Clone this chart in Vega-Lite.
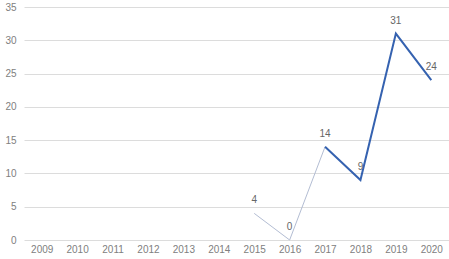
{
  "$schema": "https://vega.github.io/schema/vega-lite/v6.json",
  "width": 449,
  "height": 259,
  "autosize": {"type": "fit", "contains": "padding"},
  "padding": {"left": 4, "top": 2, "right": 0, "bottom": 5},
  "background": "white",
  "config": {
    "view": {"stroke": null},
    "font": "Liberation Sans",
    "axis": {"labelColor": "#808080", "labelFontSize": 10, "labelFont": "Liberation Sans"}
  },
  "datasets": {
    "lines": [
      {"year": "2015", "value": 4, "seg": "a"},
      {"year": "2016", "value": 0, "seg": "a"},
      {"year": "2017", "value": 14, "seg": "a"},
      {"year": "2017", "value": 14, "seg": "b"},
      {"year": "2018", "value": 9, "seg": "b"},
      {"year": "2019", "value": 31, "seg": "b"},
      {"year": "2020", "value": 24, "seg": "b"}
    ],
    "labels": [
      {"year": "2015", "value": 4},
      {"year": "2016", "value": 0},
      {"year": "2017", "value": 14},
      {"year": "2018", "value": 9},
      {"year": "2019", "value": 31},
      {"year": "2020", "value": 24}
    ]
  },
  "encoding": {
    "x": {
      "field": "year", "type": "ordinal",
      "scale": {"domain": ["2009","2010","2011","2012","2013","2014","2015","2016","2017","2018","2019","2020"], "type": "point", "padding": 0.5},
      "axis": {"title": null, "labelAngle": 0, "domain": false, "ticks": false, "grid": false, "labelPadding": 4}
    },
    "y": {
      "field": "value", "type": "quantitative",
      "scale": {"domain": [0, 35]},
      "axis": {"title": null, "values": [0,5,10,15,20,25,30,35], "domain": false, "ticks": false, "gridColor": "#dcdcdc", "gridWidth": 1, "labelPadding": 8}
    }
  },
  "layer": [
    {
      "data": {"name": "lines"},
      "mark": {"type": "line"},
      "encoding": {
        "detail": {"field": "seg"},
        "color": {"field": "seg", "type": "nominal", "scale": {"domain": ["a", "b"], "range": ["#b3bdd3", "#3562b0"]}, "legend": null},
        "strokeWidth": {"field": "seg", "type": "nominal", "scale": {"domain": ["a", "b"], "range": [1, 2]}, "legend": null}
      }
    },
    {
      "data": {"name": "labels"},
      "mark": {"type": "text", "dy": -13, "fontSize": 10, "color": "#666666"},
      "encoding": {"text": {"field": "value", "type": "quantitative"}}
    }
  ]
}
